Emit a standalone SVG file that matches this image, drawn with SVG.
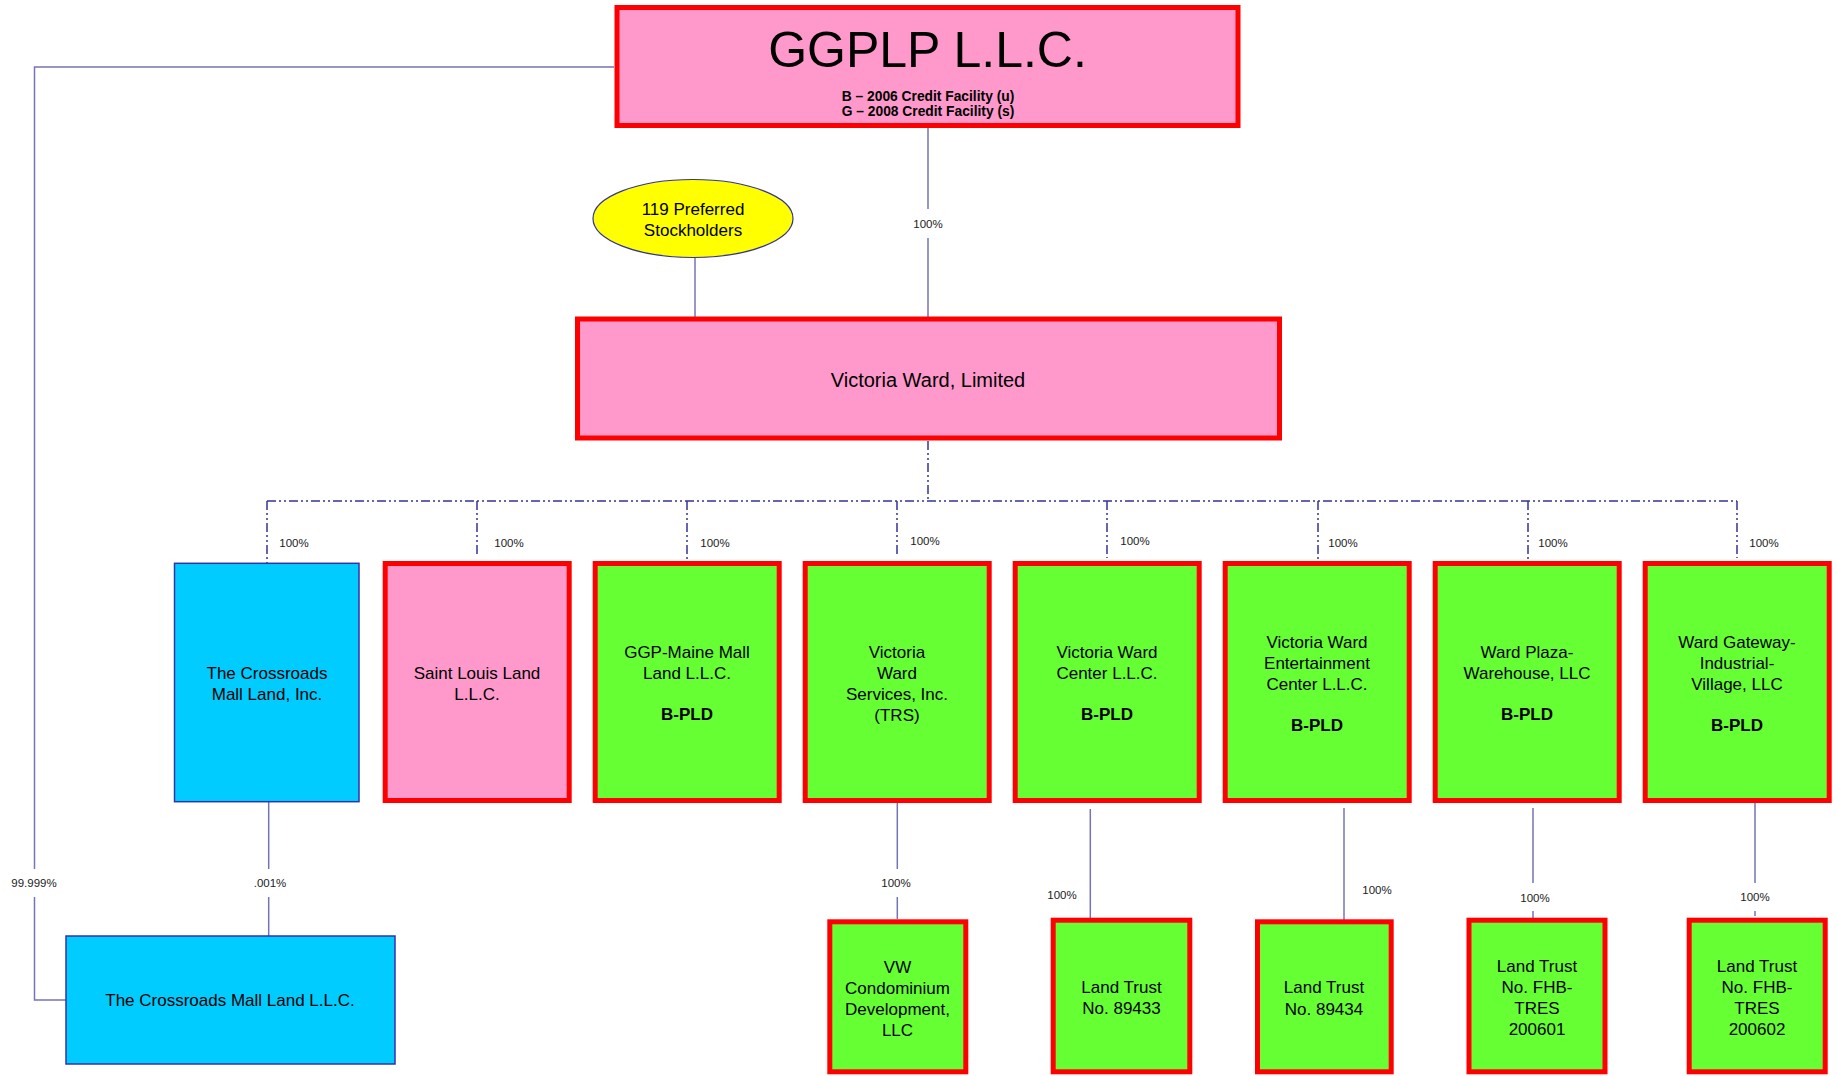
<svg xmlns="http://www.w3.org/2000/svg" width="1837" height="1076" viewBox="0 0 1837 1076">
<style>
.t{font-family:"Liberation Sans",Arial,sans-serif;fill:#000;text-anchor:middle}
.n{font-size:17px}
.b{font-size:17px;font-weight:bold}
.lbl{font-family:"Liberation Sans",Arial,sans-serif;font-size:11.5px;fill:#222;text-anchor:middle}
.red{stroke:#FF0000;stroke-width:5}
.pink{fill:#FF99CC}
.green{fill:#66FF33}
.blue{fill:#00CCFF;stroke:#3333AA;stroke-width:1.5}
.ln{fill:none;stroke:#7474B8;stroke-width:1.5}
.dd{fill:none;stroke:#333399;stroke-width:1.5;stroke-dasharray:9 3 2 3 2 3}
</style>
<rect width="1837" height="1076" fill="#fff"/>
<g id="connectors">
<path class="ln" d="M614,67 H34.5 V869 M34.5,897 V1000 H66"/>
<path class="ln" d="M928,128 V209 M928,238 V317"/>
<path class="ln" d="M695,258 V317"/>
<path class="dd" d="M928,441 V501 M267,501 H1737"/>
<path class="dd" d="M267,501 V563 M477,501 V557 M687,501 V561 M897,501 V557 M1107,501 V558 M1318,501 V561 M1528,501 V561 M1737,501 V558"/>
<path class="ln" d="M268.7,802 V869 M268.7,897 V936"/>
<path class="ln" d="M897.3,803 V869 M897.3,897 V919"/>
<path class="ln" d="M1090.3,809 V924"/>
<path class="ln" d="M1344,808 V923"/>
<path class="ln" d="M1533,808 V883 M1533,911 V918"/>
<path class="ln" d="M1755,803 V883 M1755,911 V916"/>
<text class="lbl" x="928" y="228">100%</text>
<text class="lbl" x="34" y="887">99.999%</text>
<text class="lbl" x="270" y="887">.001%</text>
<text class="lbl" x="294" y="547">100%</text>
<text class="lbl" x="509" y="547">100%</text>
<text class="lbl" x="715" y="547">100%</text>
<text class="lbl" x="925" y="545">100%</text>
<text class="lbl" x="1135" y="545">100%</text>
<text class="lbl" x="1343" y="547">100%</text>
<text class="lbl" x="1553" y="547">100%</text>
<text class="lbl" x="1764" y="547">100%</text>
<text class="lbl" x="896" y="887">100%</text>
<text class="lbl" x="1062" y="899">100%</text>
<text class="lbl" x="1377" y="894">100%</text>
<text class="lbl" x="1535" y="902">100%</text>
<text class="lbl" x="1755" y="901">100%</text>
</g>
<g id="ggplp">
<rect class="pink red" x="617" y="7.5" width="621" height="118"/>
<text class="t" x="927.5" y="67" font-size="50">GGPLP L.L.C.</text>
<text class="t" x="928" y="101" font-size="13.8" font-weight="bold">B – 2006 Credit Facility (u)</text>
<text class="t" x="928" y="115.5" font-size="13.8" font-weight="bold">G – 2008 Credit Facility (s)</text>
</g>
<g id="stockholders">
<ellipse cx="693" cy="218.5" rx="100" ry="39" fill="#FFFF00" stroke="#333399" stroke-width="1.2"/>
<text class="t n" x="693" y="215">119 Preferred</text>
<text class="t n" x="693" y="236">Stockholders</text>
</g>
<g id="victoria-ward-limited">
<rect class="pink red" x="577.5" y="319" width="702" height="119"/>
<text class="t" x="928" y="387" font-size="20">Victoria Ward, Limited</text>
</g>
<g id="crossroads-inc">
<rect class="blue" x="174.5" y="563.3" width="184.5" height="238.4"/>
<text class="t n" x="267" y="679">The Crossroads</text>
<text class="t n" x="267" y="700">Mall Land, Inc.</text>
</g>
<g id="saint-louis">
<rect class="pink red" x="385.2" y="563.5" width="184" height="237"/>
<text class="t n" x="477" y="679">Saint Louis Land</text>
<text class="t n" x="477" y="700">L.L.C.</text>
</g>
<g id="ggp-maine">
<rect class="green red" x="595.2" y="563.5" width="184" height="237"/>
<text class="t n" x="687" y="658">GGP-Maine Mall</text>
<text class="t n" x="687" y="679">Land L.L.C.</text>
<text class="t b" x="687" y="720">B-PLD</text>
</g>
<g id="vw-services">
<rect class="green red" x="805.2" y="563.5" width="184" height="237"/>
<text class="t n" x="897" y="658">Victoria</text>
<text class="t n" x="897" y="679">Ward</text>
<text class="t n" x="897" y="700">Services, Inc.</text>
<text class="t n" x="897" y="721">(TRS)</text>
</g>
<g id="vw-center">
<rect class="green red" x="1015.2" y="563.5" width="184" height="237"/>
<text class="t n" x="1107" y="658">Victoria Ward</text>
<text class="t n" x="1107" y="679">Center L.L.C.</text>
<text class="t b" x="1107" y="720">B-PLD</text>
</g>
<g id="vw-entertainment">
<rect class="green red" x="1225.2" y="563.5" width="184" height="237"/>
<text class="t n" x="1317" y="648">Victoria Ward</text>
<text class="t n" x="1317" y="669">Entertainment</text>
<text class="t n" x="1317" y="690">Center L.L.C.</text>
<text class="t b" x="1317" y="731">B-PLD</text>
</g>
<g id="ward-plaza">
<rect class="green red" x="1435.2" y="563.5" width="184" height="237"/>
<text class="t n" x="1527" y="658">Ward Plaza-</text>
<text class="t n" x="1527" y="679">Warehouse, LLC</text>
<text class="t b" x="1527" y="720">B-PLD</text>
</g>
<g id="ward-gateway">
<rect class="green red" x="1645.2" y="563.5" width="184" height="237"/>
<text class="t n" x="1737" y="648">Ward Gateway-</text>
<text class="t n" x="1737" y="669">Industrial-</text>
<text class="t n" x="1737" y="690">Village, LLC</text>
<text class="t b" x="1737" y="731">B-PLD</text>
</g>
<g id="crossroads-llc">
<rect class="blue" x="66" y="936" width="329" height="128"/>
<text class="t n" x="230" y="1006">The Crossroads Mall Land L.L.C.</text>
</g>
<g id="vw-condo">
<rect class="green red" x="829.8" y="921.8" width="136" height="150"/>
<text class="t n" x="897.5" y="973">VW</text>
<text class="t n" x="897.5" y="994">Condominium</text>
<text class="t n" x="897.5" y="1015">Development,</text>
<text class="t n" x="897.5" y="1036">LLC</text>
</g>
<g id="land-trust-89433">
<rect class="green red" x="1053.2" y="920.2" width="136.6" height="151.6"/>
<text class="t n" x="1121.5" y="993">Land Trust</text>
<text class="t n" x="1121.5" y="1014">No. 89433</text>
</g>
<g id="land-trust-89434">
<rect class="green red" x="1257.5" y="921.8" width="133.7" height="150"/>
<text class="t n" x="1324" y="993">Land Trust</text>
<text class="t n" x="1324" y="1015">No. 89434</text>
</g>
<g id="land-trust-200601">
<rect class="green red" x="1469" y="920.2" width="136" height="151.6"/>
<text class="t n" x="1537" y="972">Land Trust</text>
<text class="t n" x="1537" y="993">No. FHB-</text>
<text class="t n" x="1537" y="1014">TRES</text>
<text class="t n" x="1537" y="1035">200601</text>
</g>
<g id="land-trust-200602">
<rect class="green red" x="1689.2" y="920.2" width="136" height="151.6"/>
<text class="t n" x="1757" y="972">Land Trust</text>
<text class="t n" x="1757" y="993">No. FHB-</text>
<text class="t n" x="1757" y="1014">TRES</text>
<text class="t n" x="1757" y="1035">200602</text>
</g>
</svg>
